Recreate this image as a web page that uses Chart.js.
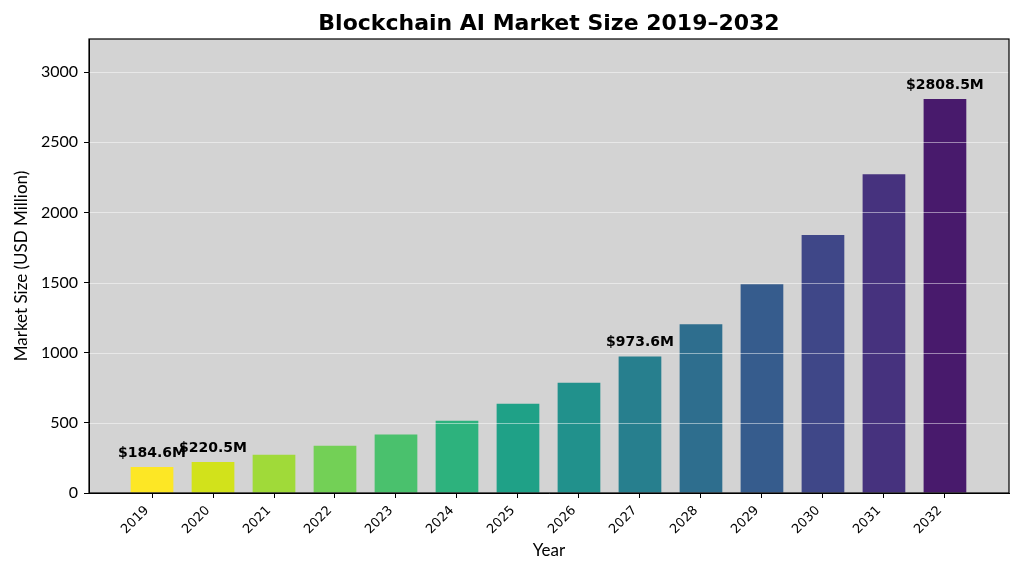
<!DOCTYPE html>
<html><head><meta charset="utf-8">
<script src="https://cdn.jsdelivr.net/npm/chart.js@4/dist/chart.umd.min.js"></script>
<style>html,body{margin:0;padding:0;background:#fff}#wrap{width:1024px;height:576px}</style>
</head><body><div id="wrap"><canvas id="c"></canvas></div>
<script>
const years = ['2019','2020','2021','2022','2023','2024','2025','2026','2027','2028','2029','2030','2031','2032'];
const values = [184.6, 220.5, 272.5, 336.8, 416.3, 514.5, 636.0, 786.0, 973.6, 1203.5, 1487.5, 1838.7, 2272.8, 2808.5];
const barColors = ['#fde725','#d2e21b','#a0da39','#73d056','#4ac16d','#2db27d','#1fa187','#21918c','#277f8e','#2e6e8e','#365c8d','#3f4788','#46327e','#481a6c'];
const labeledIdx = [0, 1, 8, 13];
const yTicks = [0, 500, 1000, 1500, 2000, 2500, 3000];
const titleText = 'Blockchain AI Market Size 2019–2032';

const tickFont = "Lato";
const plugin = {
  id: 'deco',
  beforeDraw(chart) {
    const a = chart.chartArea, ctx = chart.ctx;
    ctx.save(); ctx.fillStyle = '#d3d3d3';
    ctx.fillRect(a.left, a.top, a.right - a.left, a.bottom - a.top);
    ctx.restore();
  },
  afterDatasetsDraw(chart) {
    const a = chart.chartArea, ctx = chart.ctx, ys = chart.scales.y;
    ctx.save();
    ctx.strokeStyle = 'rgba(255,255,255,0.6)'; ctx.lineWidth = 0.8;
    yTicks.forEach(v => {
      if (v === 0) return;
      const p = Math.round(ys.getPixelForValue(v)) + 0.5;
      ctx.beginPath(); ctx.moveTo(a.left, p); ctx.lineTo(a.right, p); ctx.stroke();
    });
    ctx.strokeStyle = '#000'; ctx.lineWidth = 1.2;
    ctx.strokeRect(a.left, a.top, a.right - a.left, a.bottom - a.top);
    const meta = chart.getDatasetMeta(0);
    ctx.fillStyle = '#000'; ctx.font = 'bold 14px "DejaVu Sans"';
    ctx.textAlign = 'center'; ctx.textBaseline = 'bottom';
    labeledIdx.forEach(i => {
      const el = meta.data[i];
      ctx.fillText('$' + values[i].toFixed(1) + 'M', el.x, el.y - 7);
    });
    ctx.font = 'bold 22px "DejaVu Sans"';
    ctx.textBaseline = 'middle';
    ctx.fillText(titleText, (a.left + a.right) / 2, 24);
    ctx.restore();
  }
};

new Chart(document.getElementById('c'), {
  type: 'bar',
  data: {
    datasets: [{
      data: values.map((v, i) => ({x: i, y: v})),
      backgroundColor: barColors,
      barPercentage: 0.7,
      categoryPercentage: 1.0
    }]
  },
  options: {
    responsive: true, maintainAspectRatio: false, animation: false,
    layout: {padding: {left: 0, right: 15, top: 39, bottom: 0}},
    plugins: {
      legend: {display: false}, tooltip: {enabled: false}, title: {display: false}
    },
    scales: {
      x: {
        type: 'linear', min: -1.033, max: 14.05, offset: false,
        afterBuildTicks(s) { s.ticks = years.map((_, i) => ({value: i})); },
        afterFit(s) { s.height = 83; },
        ticks: {callback: v => years[v], minRotation: 45, maxRotation: 45, color: '#000',
          font: {family: 'DejaVu Sans', size: 13}, padding: 5, labelOffset: -5},
        grid: {drawOnChartArea: false, tickColor: '#000', tickLength: 5, offset: false},
        border: {display: true, color: '#000'},
        title: {display: true, text: 'Year', color: '#000', font: {family: tickFont, size: 17}, padding: {top: 0, bottom: 15}}
      },
      y: {
        min: 0, max: 3236,
        afterBuildTicks(s) { s.ticks = yTicks.map(v => ({value: v})); },
        afterFit(s) { s.width = 89; },
        ticks: {callback: v => String(v), color: '#000', font: {family: tickFont, size: 16}, padding: 6},
        grid: {drawOnChartArea: false, tickColor: '#000', tickLength: 5},
        border: {display: true, color: '#000'},
        title: {display: true, text: 'Market Size (USD Million)', color: '#000', font: {family: tickFont, size: 17}, padding: {top: 11, bottom: 0}}
      }
    }
  },
  plugins: [plugin]
});
</script></body></html>
